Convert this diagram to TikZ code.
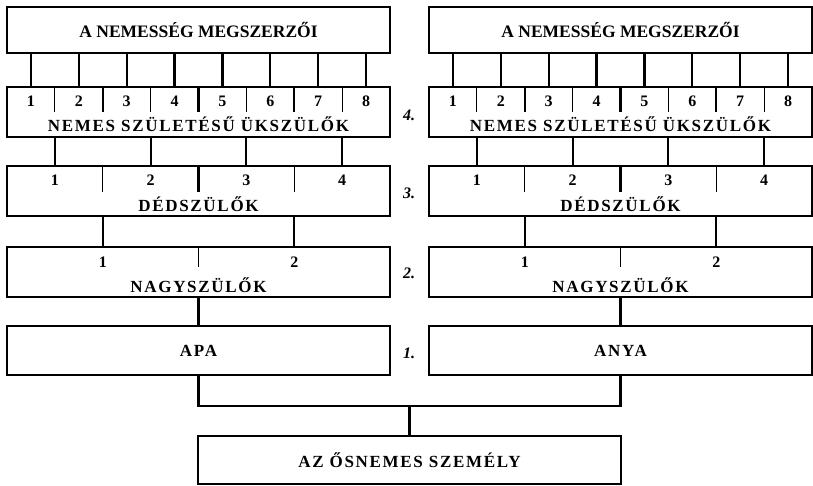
\documentclass[tikz,border=0pt]{standalone}
\usepackage{fontspec}
\setmainfont{Liberation Serif}
\newfontfamily\spacedfont[LetterSpace=10]{Liberation Serif}
\usetikzlibrary{calc}
\begin{document}
\begin{tikzpicture}[x=1pt,y=-1pt,
  box/.style={draw, line width=2.2pt, inner sep=0pt, outer sep=0pt, anchor=north west},
  conn/.style={line width=2.2pt},
  thintick/.style={line width=1pt},
  thicktick/.style={line width=2.2pt},
  maintxt/.style={inner sep=0pt, font=\fontsize{17.5}{18}\selectfont\bfseries},
  sptxt/.style={inner sep=0pt, font=\fontsize{17}{18}\selectfont\spacedfont\bfseries},
  numtxt/.style={inner sep=0pt, font=\fontsize{16}{17}\selectfont\bfseries},
  gentxt/.style={inner sep=0pt, font=\fontsize{16}{17}\selectfont\bfseries\itshape}]
\useasboundingbox (0,0) rectangle (813,486);
\def\W{383}
\foreach \p/\x in {L/7, R/429} {
  % top box
  \node[box, minimum width=\W pt, minimum height=46pt] (\p top) at (\x,7) {};
  \node[maintxt] (\p toptxt) at (\p top.center) {A NEMESSÉG MEGSZERZŐI};
  % great-great-grandparents
  \node[box, minimum width=\W pt, minimum height=50pt] (\p uk) at (\x,87) {};
  \node[sptxt] (\p uktxt) at ($(\p uk.north)+(0,37)$) {NEMES SZÜLETÉSŰ ÜKSZÜLŐK};
  \foreach \i in {1,...,8} {
    \coordinate (\p u\i) at ({\x+\W/16*(2*\i-1)},0);
    \node[numtxt] (\p un\i) at ($(\p u\i)+(0,101)$) {\i};
    \draw[conn] (\p u\i |- \p top.south) -- (\p u\i |- \p uk.north);
  }
  \foreach \k in {1,3,5,7}
    \draw[thintick] ($(\p uk.north west)+({\k*\W/8},0)$) -- ++(0,25);
  \foreach \k in {2,4,6}
    \draw[thicktick] ($(\p uk.north west)+({\k*\W/8},0)$) -- ++(0,25);
  % great-grandparents
  \node[box, minimum width=\W pt, minimum height=50pt] (\p dd) at (\x,166) {};
  \node[sptxt] (\p ddtxt) at ($(\p dd.north)+(0,38)$) {DÉDSZÜLŐK};
  \foreach \j in {1,...,4} {
    \coordinate (\p d\j) at ({\x+\W/8*(2*\j-1)},0);
    \node[numtxt] (\p dn\j) at ($(\p d\j)+(0,180)$) {\j};
    \draw[conn] (\p d\j |- \p uk.south) -- (\p d\j |- \p dd.north);
  }
  \foreach \k in {1,3}
    \draw[thintick] ($(\p dd.north west)+({\k*\W/4},0)$) -- ++(0,26);
  \draw[thicktick] ($(\p dd.north west)+({\W/2},0)$) -- ++(0,26);
  % grandparents
  \node[box, minimum width=\W pt, minimum height=50pt] (\p ny) at (\x,247) {};
  \node[sptxt] (\p nytxt) at ($(\p ny.north)+(0,38)$) {NAGYSZÜLŐK};
  \foreach \j in {1,2} {
    \coordinate (\p n\j) at ({\x+\W/4*(2*\j-1)},0);
    \node[numtxt] (\p nn\j) at ($(\p n\j)+(0,262)$) {\j};
    \draw[conn] (\p n\j |- \p dd.south) -- (\p n\j |- \p ny.north);
  }
  \draw[thintick] (\p ny.north) -- ++(0,20);
  % parent
  \node[box, minimum width=\W pt, minimum height=49pt] (\p apa) at (\x,326) {};
  \draw[conn] (\p ny.south) -- (\p apa.north);
}
\node[sptxt] (apatxt) at (Lapa.center) {APA};
\node[sptxt] (anyatxt) at (Rapa.center) {ANYA};
% generation labels
\node[gentxt] (g4) at (409,115) {4.};
\node[gentxt] (g3) at (409,193) {3.};
\node[gentxt] (g2) at (409,273) {2.};
\node[gentxt] (g1) at (409,353) {1.};
% bottom
\node[box, minimum width=423pt, minimum height=48pt] (self) at (198,436) {};
\node[sptxt] (selftxt) at (self.center) {AZ ŐSNEMES SZEMÉLY};
\coordinate (bus) at ($(self.north)+(0,-30)$);
\draw[conn] (Lapa.south) |- (bus) -| (Rapa.south);
\draw[conn] (bus) -- (self.north);
\end{tikzpicture}
\end{document}
